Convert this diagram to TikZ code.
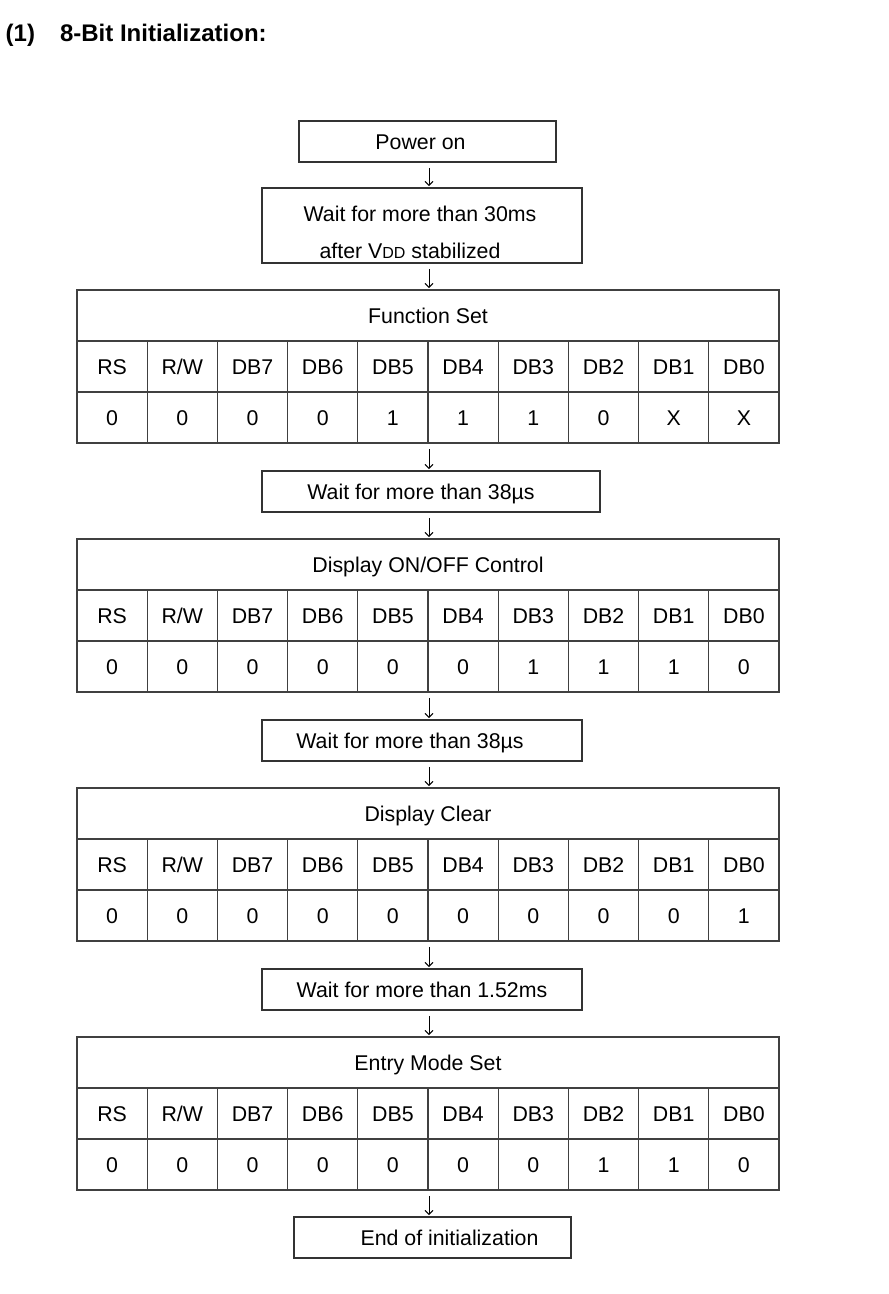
\documentclass[tikz,border=0pt]{standalone}
\usepackage{fontspec}
\setmainfont{Liberation Sans}
\usepackage{tikz}
\usetikzlibrary{arrows.meta,calc}

\def\bitnames{RS,R/W,DB7,DB6,DB5,DB4,DB3,DB2,DB1,DB0}

% one instruction table: name, top edge, title, bit values
\newcommand{\cmdtable}[4]{%
  \node[cmdtitle] (#1) at (428,#2+25.5) {#3};
  \foreach \lbl [count=\i from 0] in \bitnames
    \node[cell] (#1-h\i) at (112.1+70.2*\i,#2+76.5) {\lbl};
  \foreach \val [count=\i from 0] in {#4}
    \node[cell] (#1-v\i) at (112.1+70.2*\i,#2+127.5) {\val};
}

\begin{document}
\begin{tikzpicture}[
  x=0.75pt, y=-0.75pt,
  waitbox/.style={draw=black!80, line width=0.8pt, minimum height=30.75pt,
               inner sep=0pt, align=center, text height=11.6pt, text depth=0pt,
               font=\fontsize{16}{19}\selectfont},
  cmdtitle/.style={draw=black!75, line width=0.8pt, minimum width=526.5pt,
               minimum height=38.25pt, inner sep=0pt, text height=11.6pt,
               text depth=0pt, font=\fontsize{16}{19}\selectfont},
  cell/.style={draw=black!75, line width=0.8pt, minimum width=52.65pt,
               minimum height=38.25pt, inner sep=0pt, text height=11.6pt,
               text depth=0pt, font=\fontsize{16}{19}\selectfont},
  arr/.style={-{Straight Barb[length=3pt,width=6pt]}, line width=0.75pt,
              shorten <=4pt, shorten >=1pt},
  font=\fontsize{16}{19}\selectfont
]
\useasboundingbox (0,0) rectangle (888,1294);

\node[anchor=base west, font=\fontsize{18}{22}\selectfont\bfseries] (head) at (1,42)
  {(1)\hspace{18.75pt}8-Bit Initialization:};

\coordinate (axis) at (429,0);

\node[waitbox, minimum width=192.75pt] (pwr) at (427.5,141.5) {Power on\hspace*{10.5pt}};
\node[draw=black!80, line width=0.8pt, inner sep=0pt, minimum width=240pt,
      minimum height=56.25pt, align=center,
      font=\fontsize{16}{27.75}\selectfont] (w30) at (422,225.5)
  {\rule{0pt}{22pt}Wait for more than 30ms\hspace*{3pt}\\
   after V{\fontsize{12}{12}\selectfont DD} stabilized\hspace*{18pt}};

\cmdtable{fs}{290}{Function Set}{0,0,0,0,1,1,1,0,X,X}

\node[waitbox, minimum width=253.5pt] (w38a) at (431,491.5) {Wait for more than 38µs\hspace*{15pt}};

\cmdtable{dc}{539}{Display ON/OFF Control}{0,0,0,0,0,0,1,1,1,0}

\node[waitbox, minimum width=240pt] (w38b) at (422,740.5) {Wait for more than 38µs\hspace*{18pt}};

\cmdtable{clr}{788}{Display Clear}{0,0,0,0,0,0,0,0,0,1}

\node[waitbox, minimum width=240pt] (w152) at (422,989.5) {Wait for more than 1.52ms};

\cmdtable{ems}{1037}{Entry Mode Set}{0,0,0,0,0,0,0,1,1,0}

\node[waitbox, minimum width=207.75pt] (fin) at (432.5,1237.5) {\hspace*{25.5pt}End of initialization};

\draw[arr] (pwr.south -| axis)    -- (w30.north -| axis);
\draw[arr] (w30.south -| axis)    -- (fs.north -| axis);
\draw[arr] (fs-v4.south -| axis)  -- (w38a.north -| axis);
\draw[arr] (w38a.south -| axis)   -- (dc.north -| axis);
\draw[arr] (dc-v4.south -| axis)  -- (w38b.north -| axis);
\draw[arr] (w38b.south -| axis)   -- (clr.north -| axis);
\draw[arr] (clr-v4.south -| axis) -- (w152.north -| axis);
\draw[arr] (w152.south -| axis)   -- (ems.north -| axis);
\draw[arr] (ems-v4.south -| axis) -- (fin.north -| axis);

\end{tikzpicture}
\end{document}
